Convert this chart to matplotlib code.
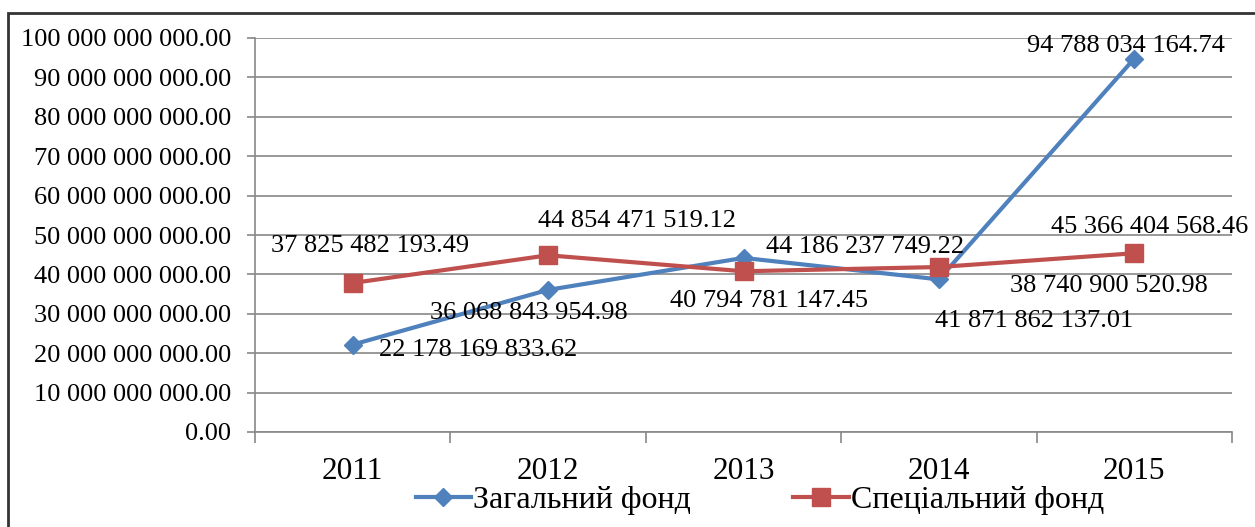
import matplotlib
matplotlib.use('Agg')
import matplotlib.pyplot as plt
from matplotlib.patches import Rectangle
from matplotlib.ticker import FuncFormatter, FixedLocator

plt.rcParams['font.family'] = ['Liberation Serif', 'DejaVu Serif']

# дані
years = ['2011', '2012', '2013', '2014', '2015']
zagalnyi = [22178169833.62, 36068843954.98, 44186237749.22, 38740900520.98, 94788034164.74]
specialnyi = [37825482193.49, 44854471519.12, 40794781147.45, 41871862137.01, 45366404568.46]
zag_labels = ['22 178 169 833.62', '36 068 843 954.98', '44 186 237 749.22',
              '38 740 900 520.98', '94 788 034 164.74']
spec_labels = ['37 825 482 193.49', '44 854 471 519.12', '40 794 781 147.45',
               '41 871 862 137.01', '45 366 404 568.46']

blue = '#4F81BD'
red = '#C0504D'
grid_c = '#888888'

fig = plt.figure(figsize=(12.55, 5.27), dpi=100)
ax = fig.add_axes([255 / 1255, 1 - 432 / 527, (1232 - 255) / 1255, (432 - 38) / 527])

x = [i + 0.5 for i in range(len(years))]
ax.plot(x, zagalnyi, color=blue, lw=3, marker='D', ms=9.5, mec=blue, label='Загальний фонд', zorder=3)
ax.plot(x, specialnyi, color=red, lw=3, marker='s', ms=13, mec=red, label='Спеціальний фонд', zorder=3)

ax.set_xlim(0, 5)
ax.set_ylim(0, 100e9)
ax.set_yticks([i * 10e9 for i in range(11)])
ax.yaxis.set_major_formatter(FuncFormatter(lambda v, p: f'{v:,.2f}'.replace(',', ' ')))
ax.grid(axis='y', color=grid_c, lw=1.2)
ax.set_axisbelow(True)

ax.set_xticks(x)
ax.set_xticklabels(years)
ax.xaxis.set_minor_locator(FixedLocator(range(6)))
ax.tick_params(axis='x', which='major', length=0, pad=18, labelsize=22.5)
ax.tick_params(axis='x', which='minor', length=8, color=grid_c, width=1.2)
ax.tick_params(axis='y', length=6, color=grid_c, width=1.2, pad=11, labelsize=19)

for s in ['top', 'right']:
    ax.spines[s].set_visible(False)
for s in ['left', 'bottom']:
    ax.spines[s].set_color(grid_c)
    ax.spines[s].set_linewidth(1.2)

# підписи даних: (зсув центру по x, зсув базової лінії по y) у пікселях
zag_off = [(125, -11), (-19, -29), (122, 5), (170, -13), (-8, 7)]
spec_off = [(17, 31), (89, 28), (25, -36), (95, -60), (15, 20)]
for xi, v, t, (dx, dy) in zip(x, zagalnyi, zag_labels, zag_off):
    ax.annotate(t, (xi, v), xytext=(dx, dy), textcoords='offset pixels',
                ha='center', va='baseline', fontsize=19, zorder=4)
for xi, v, t, (dx, dy) in zip(x, specialnyi, spec_labels, spec_off):
    ax.annotate(t, (xi, v), xytext=(dx, dy), textcoords='offset pixels',
                ha='center', va='baseline', fontsize=19, zorder=4)

fig.legend(loc='center', bbox_to_anchor=(760 / 1255, 1 - 500 / 527), ncol=2,
           frameon=False, fontsize=23, handlelength=1.75, handletextpad=0.06,
           columnspacing=3.2, borderaxespad=0, borderpad=0)

# рамка діаграми
fig.patches.append(Rectangle((8 / 1255, -0.1), 1.2, 1.1 - 13 / 527,
                             transform=fig.transFigure, fill=False,
                             edgecolor='#333333', lw=2))

fig.savefig('out.png', dpi=100)
